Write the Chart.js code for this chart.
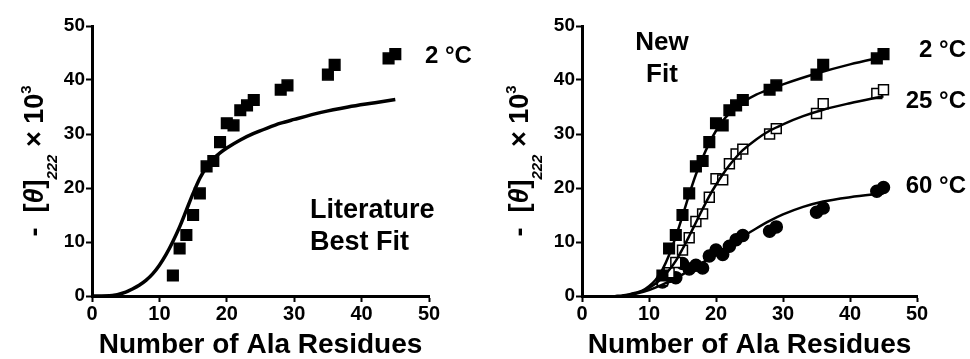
<!DOCTYPE html>
<html>
<head>
<meta charset="utf-8">
<script src="https://cdn.jsdelivr.net/npm/chart.js@4/dist/chart.umd.min.js"></script>
<style>
  html, body { margin: 0; padding: 0; background: #fff; }
  #wrap { position: relative; width: 970px; height: 359px; }
  .panel { position: absolute; top: 0; width: 485px; height: 359px; }
</style>
</head>
<body>
<div id="wrap">
  <div class="panel" style="left:0"><canvas id="litChart" width="485" height="359"></canvas></div>
  <div class="panel" style="left:485px"><canvas id="newChart" width="485" height="359"></canvas></div>
</div>
<script>
// ---- data ----
const axisTicks = [0, 10, 20, 30, 40, 50];

// 2 C data (filled squares), used in both panels
const res2C = [12, 13, 14, 15, 16, 17, 18, 19, 20, 21, 22, 23, 24, 28, 29, 35, 36, 44, 45];
const theta2C = [3.8, 8.8, 11.3, 15, 19, 24, 25, 28.5, 32, 31.6, 34.4, 35.3, 36.3, 38.2, 39, 41, 42.8, 44, 44.8];

// 25 C data (open squares)
const res25C = [12, 13, 14, 15, 16, 17, 18, 19, 20, 21, 22, 23, 24, 28, 29, 35, 36, 44, 45];
const theta25C = [2.8, 4.3, 6.2, 8.5, 10.8, 13.8, 15.2, 18.3, 21.7, 21.5, 24.5, 26.3, 27.2, 30, 31, 33.8, 35.6, 37.5, 38.2];

// 60 C data (filled circles)
const res60C = [12, 13, 14, 15, 16, 17, 18, 19, 20, 21, 22, 23, 24, 28, 29, 35, 36, 44, 45];
const theta60C = [2.6, 3.6, 3.4, 6.0, 5.0, 5.7, 5.2, 7.4, 8.5, 7.7, 9.2, 10.4, 11.2, 12.0, 12.8, 15.5, 16.3, 19.4, 20.1];

// "Literature Best Fit" curve
const litFitX = [0, 3, 5, 6, 7, 8, 9, 10, 11, 12, 13, 14, 15, 16, 17, 18, 19, 20, 22, 24, 26, 28, 30, 34, 38, 42, 45];
const litFitY = [0, 0.1, 0.7, 1.3, 2.0, 2.9, 4.1, 5.7, 7.7, 10.1, 12.8, 15.9, 19.0, 21.8, 23.9, 25.4, 26.5, 27.4, 28.9, 30.1, 31.1, 32.0, 32.7, 34.0, 35.0, 35.8, 36.4];

// "New Fit" curves
const fit2CX = [5, 6, 7, 8, 9, 10, 11, 12, 13, 14, 15, 16, 17, 18, 19, 20, 21, 22, 23, 24, 26, 28, 30, 35, 40, 45];
const fit2CY = [0, 0.1, 0.3, 0.6, 1.0, 1.8, 3.0, 4.9, 7.6, 11.0, 14.8, 18.8, 22.5, 25.6, 28.3, 30.6, 32.4, 33.8, 35.0, 35.9, 37.3, 38.3, 39.2, 41.2, 42.9, 44.3];

const fit25CX = [6, 7, 8, 9, 10, 11, 12, 13, 14, 15, 16, 17, 18, 19, 20, 21, 22, 23, 24, 26, 28, 30, 33, 36, 40, 45];
const fit25CY = [0, 0.2, 0.5, 0.9, 1.5, 2.3, 3.4, 4.8, 6.5, 8.7, 11.1, 13.6, 16.1, 18.5, 20.6, 22.5, 24.2, 25.7, 27.0, 29.0, 30.6, 31.8, 33.3, 34.5, 35.7, 37.0];

const fit60CX = [6, 8, 10, 12, 14, 16, 18, 20, 22, 24, 26, 28, 30, 33, 36, 40, 45];
const fit60CY = [0, 0.4, 1.1, 2.1, 3.3, 4.7, 6.2, 7.8, 9.4, 11.0, 12.5, 13.9, 15.1, 16.5, 17.5, 18.3, 19.0];

const FONT = "'Liberation Sans', Arial, Helvetica, sans-serif";

function pts(xs, ys) {
  return xs.map((x, i) => ({ x: x, y: ys[i] }));
}

function lineSet(xs, ys, width) {
  return {
    type: "line",
    data: pts(xs, ys),
    borderColor: "#000",
    borderWidth: width,
    pointRadius: 0,
    fill: false,
    cubicInterpolationMode: "monotone",
  };
}

function markerSet(xs, ys, style, fillColor, radius) {
  return {
    type: "scatter",
    data: pts(xs, ys),
    pointStyle: style,
    pointRadius: radius,
    pointBackgroundColor: fillColor,
    pointBorderColor: "#000",
    pointBorderWidth: 1.5,
    showLine: false,
  };
}

// draws the rotated y title  - [θ]222 × 10^3
function drawYTitle(ctx, cx, cy) {
  const big = "bold 27px " + FONT;
  const bigIt = "italic bold 27px " + FONT;
  const small = "bold 15px " + FONT;
  const smallIt = "italic bold 15px " + FONT;
  const parts = [
    { t: "-  ", f: big, dy: 0 },
    { t: "[", f: big, dy: 0 },
    { t: "\u03B8", f: bigIt, dy: 0 },
    { t: "]", f: big, dy: 0 },
    { t: "222", f: smallIt, dy: 14 },
    { t: " \u00D7 10", f: big, dy: 0 },
    { t: "3", f: small, dy: -12 },
  ];
  ctx.save();
  let total = 0;
  parts.forEach((p) => {
    ctx.font = p.f;
    p.w = ctx.measureText(p.t).width;
    total += p.w;
  });
  ctx.translate(cx, cy);
  ctx.rotate(-Math.PI / 2);
  ctx.fillStyle = "#000";
  ctx.textBaseline = "alphabetic";
  let x = -total / 2;
  parts.forEach((p) => {
    ctx.font = p.f;
    ctx.fillText(p.t, x, p.dy);
    x += p.w;
  });
  ctx.restore();
}

function textPlugin(labels) {
  return {
    id: "panelText",
    afterDraw(chart) {
      const ctx = chart.ctx;
      drawYTitle(ctx, 43, (chart.chartArea.top + chart.chartArea.bottom) / 2);
      ctx.save();
      ctx.fillStyle = "#000";
      ctx.textBaseline = "alphabetic";
      labels.forEach((l) => {
        ctx.font = "bold " + l.size + "px " + FONT;
        ctx.textAlign = l.align;
        ctx.fillText(l.text, l.x, l.y);
      });
      ctx.restore();
    },
  };
}

function makeOptions(yWidth) {
  return {
    responsive: false,
    animation: false,
    layout: { padding: { left: 0, top: 26, right: 0, bottom: 0 } },
    plugins: { legend: { display: false }, tooltip: { enabled: false } },
    scales: {
      x: {
        type: "linear",
        min: 0,
        max: 50,
        afterBuildTicks(scale) {
          scale.ticks = axisTicks.map((v) => ({ value: v }));
        },
        afterFit(scale) {
          scale.height = 63;
        },
        grid: { drawOnChartArea: false, tickLength: 6, tickWidth: 2, color: "#000" },
        border: { display: true, color: "#000", width: 3 },
        ticks: {
          color: "#000",
          padding: 0,
          maxRotation: 0,
          font: { family: FONT, size: 20, weight: "bold" },
        },
        title: {
          display: true,
          text: "Number of Ala Residues",
          color: "#000",
          font: { family: FONT, size: 28, weight: "bold", lineHeight: 1 },
          padding: { top: 0, bottom: 0 },
        },
      },
      y: {
        type: "linear",
        min: 0,
        max: 50,
        afterBuildTicks(scale) {
          scale.ticks = axisTicks.map((v) => ({ value: v }));
        },
        afterFit(scale) {
          scale.width = yWidth;
        },
        grid: { drawOnChartArea: false, tickLength: 6, tickWidth: 2, color: "#000" },
        border: { display: true, color: "#000", width: 3 },
        ticks: {
          color: "#000",
          padding: 1,
          font: { family: FONT, size: 19, weight: "bold" },
        },
      },
    },
  };
}

// left panel: literature best fit
const litOpts = makeOptions(92);
litOpts.layout.padding.right = 56;
new Chart(document.getElementById("litChart"), {
  type: "scatter",
  data: {
    datasets: [
      lineSet(litFitX, litFitY, 3.5),
      markerSet(res2C, theta2C, "rect", "#000", 7.5),
    ],
  },
  options: litOpts,
  plugins: [
    textPlugin([
      { text: "2 \u00B0C", x: 425, y: 63, size: 24, align: "left" },
      { text: "Literature", x: 310, y: 218, size: 27, align: "left" },
      { text: "Best Fit", x: 310, y: 250, size: 27, align: "left" },
    ]),
  ],
});

// right panel: new fit
const newOpts = makeOptions(97);
newOpts.layout.padding.right = 53;
new Chart(document.getElementById("newChart"), {
  type: "scatter",
  data: {
    datasets: [
      lineSet(fit2CX, fit2CY, 2.5),
      lineSet(fit25CX, fit25CY, 2.5),
      lineSet(fit60CX, fit60CY, 2.5),
      markerSet(res2C, theta2C, "rect", "#000", 7.5),
      markerSet(res25C, theta25C, "rect", "#fff", 7),
      markerSet(res60C, theta60C, "circle", "#000", 6),
    ],
  },
  options: newOpts,
  plugins: [
    textPlugin([
      { text: "New", x: 177, y: 50, size: 26, align: "center" },
      { text: "Fit", x: 177, y: 82, size: 26, align: "center" },
      { text: "2 \u00B0C", x: 481, y: 57, size: 24, align: "right" },
      { text: "25 \u00B0C", x: 481, y: 108, size: 24, align: "right" },
      { text: "60 \u00B0C", x: 481, y: 193, size: 24, align: "right" },
    ]),
  ],
});
</script>
</body>
</html>
